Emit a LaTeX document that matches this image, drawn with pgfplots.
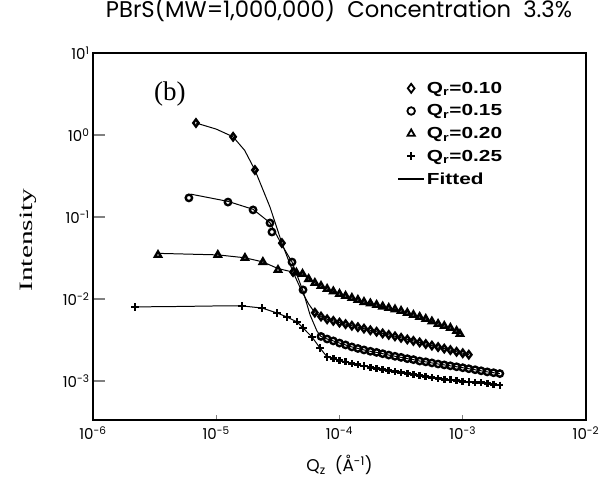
\documentclass[border=0pt]{standalone}
\usepackage{fontspec}
\setmainfont{Liberation Serif}
\newfontfamily\pop{Poppins}
\newfontfamily\legf{Liberation Sans}
\usepackage{graphicx}
\usepackage{pgfplots}
\pgfplotsset{compat=1.18}
\newcommand\tp[1]{{\pop\fontsize{15bp}{18bp}\selectfont 10\textsuperscript{#1}}}
\newcommand\legq[1]{\scalebox{1.3}[1]{\legf\bfseries\fontsize{16bp}{18bp}\selectfont Q\textsubscript{r}=#1}}
\begin{document}
\begin{tikzpicture}
\path[use as bounding box] (-93bp,-71bp) rectangle (510bp,420bp);
\begin{axis}[
  xmode=log, ymode=log,
  scale only axis, width=493bp, height=367bp,
  xmin=1e-6, xmax=1e-2, ymin=3.34e-4, ymax=10,
  axis line style={line width=1.3pt},
  xtick={1e-6,1e-5,1e-4,1e-3,1e-2},
  xticklabels={\tp{-6},\tp{-5},\tp{-4},\tp{-3},\tp{-2}},
  x tick label style={yshift=-3bp},
  ytick={1e-3,1e-2,1e-1,1,10},
  yticklabels={\tp{-3},\tp{-2},\tp{-1},\tp{0},\tp{1}},
  xminorticks=false, yminorticks=false,
  tick align=inside, xtick pos=bottom, ytick pos=left,
  major tick length=12bp,
  xtick style={/pgfplots/major tick length=5bp, line width=0.8pt},
  ytick style={line width=1.2pt},
  xlabel={\pop\fontsize{17bp}{20bp}\selectfont Q\textsubscript{z}\ \ (Å\textsuperscript{-1})},
  xlabel style={at={(axis description cs:0.5,-0.1226)}, anchor=center},
  ylabel={\resizebox{103bp}{12.5bp}{Intensity}},
  ylabel style={at={(axis description cs:-0.132,0.49)}, anchor=center, rotate=0},
  title={\resizebox{466bp}{!}{\pop PBrS(MW=1,000,000)\ \ Concentration\ \ 3.3\%}},
  title style={at={(axis description cs:0.499,1.1035)}, anchor=center},
  legend style={at={(axis description cs:0.617,0.927)}, anchor=north west, draw=none, fill=none,
    inner sep=0pt, row sep=6bp, nodes={inner sep=2bp}},
  legend cell align=left,
  legend image code/.code={\draw[mark repeat=2,mark phase=2,#1] plot coordinates {(0bp,0bp) (13bp,0bp) (26bp,0bp)};},
  every axis plot/.append style={black},
]
% fitted lines
\addplot[forget plot, line width=1pt] coordinates {
(6.85e-6,1.40) (1.0e-5,1.18) (1.37e-5,0.95) (1.7e-5,0.65) (2.06e-5,0.374) (2.73e-5,0.132) (3.41e-5,0.048) (4.2e-5,0.0213) (4.97e-5,0.0122) (5.62e-5,0.0087) (6.31e-5,0.0068) (7.08e-5,0.0061) (7.94e-5,0.00565) (8.91e-5,0.00540) (1.0e-4,0.00515) (1.12e-4,0.00493) (1.26e-4,0.00472) (1.41e-4,0.00453) (1.58e-4,0.00435) (1.78e-4,0.00415) (2.0e-4,0.00398) (2.24e-4,0.00380) (2.51e-4,0.00365) (2.82e-4,0.00350) (3.16e-4,0.00336) (3.55e-4,0.00321) (3.98e-4,0.00308) (4.47e-4,0.00295) (5.01e-4,0.00282) (5.62e-4,0.00270) (6.31e-4,0.00259) (7.08e-4,0.00248) (7.94e-4,0.00238) (8.91e-4,0.00227) (1.0e-3,0.00218) (1.12e-3,0.00209)};
\addplot[forget plot, line width=1pt] coordinates {
(6.2e-6,0.19) (1.245e-5,0.155) (1.99e-5,0.124) (2.73e-5,0.085) (3.41e-5,0.0456) (4.12e-5,0.0282) (5.06e-5,0.0125) (5.77e-5,0.0064) (6.56e-5,0.00407) (7.08e-5,0.00349) (7.94e-5,0.00325) (8.91e-5,0.00308) (1.0e-4,0.00290) (1.12e-4,0.00275) (1.26e-4,0.00260) (1.41e-4,0.00249) (1.58e-4,0.00239) (1.78e-4,0.00230) (2.0e-4,0.00223) (2.24e-4,0.00215) (2.51e-4,0.00207) (2.82e-4,0.00200) (3.16e-4,0.00194) (3.55e-4,0.00187) (3.98e-4,0.00182) (4.47e-4,0.00175) (5.01e-4,0.00171) (5.62e-4,0.00166) (6.31e-4,0.00161) (7.08e-4,0.00157) (7.94e-4,0.00153) (8.91e-4,0.00149) (1.0e-3,0.00145) (1.12e-3,0.00141) (1.26e-3,0.00137) (1.41e-3,0.00133) (1.58e-3,0.00129) (1.78e-3,0.00126) (2.0e-3,0.00123)};
\addplot[forget plot, line width=1pt] coordinates {
(3.37e-6,0.036) (1.03e-5,0.0345) (1.71e-5,0.0318) (2.39e-5,0.0283) (3.17e-5,0.0235) (4.47e-5,0.0208) (5.01e-5,0.0202) (5.62e-5,0.0175) (6.31e-5,0.01567) (7.08e-5,0.0144) (7.94e-5,0.01324) (8.91e-5,0.01236) (1.0e-4,0.01151) (1.12e-4,0.01089) (1.26e-4,0.01028) (1.41e-4,0.00973) (1.58e-4,0.00918) (1.78e-4,0.00881) (2.0e-4,0.00845) (2.24e-4,0.00809) (2.51e-4,0.00776) (2.82e-4,0.00745) (3.16e-4,0.00714) (3.55e-4,0.00676) (3.98e-4,0.00638) (4.47e-4,0.00603) (5.01e-4,0.00570) (5.62e-4,0.00531) (6.31e-4,0.00495) (7.08e-4,0.00468) (7.94e-4,0.00443) (8.91e-4,0.00407) (9.5e-4,0.00374)};
\addplot[forget plot, line width=1pt] coordinates {
(2.19e-6,0.0080) (5e-6,0.0081) (1.0e-5,0.00822) (1.62e-5,0.00822) (2.35e-5,0.00776) (3.11e-5,0.00675) (3.75e-5,0.00603) (4.52e-5,0.00525) (5.06e-5,0.00443) (5.98e-5,0.00344) (6.95e-5,0.00252) (7.94e-5,0.00196) (8.91e-5,0.00187) (1.0e-4,0.00178) (1.12e-4,0.00171) (1.26e-4,0.00164) (1.41e-4,0.00158) (1.58e-4,0.00152) (1.78e-4,0.00146) (2.0e-4,0.00142) (2.24e-4,0.00138) (2.51e-4,0.00134) (2.82e-4,0.00130) (3.16e-4,0.00127) (3.55e-4,0.00123) (3.98e-4,0.00120) (4.47e-4,0.00116) (5.01e-4,0.00113) (5.62e-4,0.00110) (6.31e-4,0.00107) (7.08e-4,0.00105) (7.94e-4,0.00103) (8.91e-4,0.00101) (1.0e-3,0.00099) (1.12e-3,0.00097) (1.26e-3,0.00096) (1.41e-3,0.00095) (1.58e-3,0.00093) (1.78e-3,0.00091) (2.0e-3,0.00089)};
% data markers
\addplot[forget plot, only marks, mark=diamond, mark size=3.6pt, line width=2.4pt] coordinates {
(6.85e-6,1.40) (1.37e-5,0.95) (2.06e-5,0.374) (3.41e-5,0.048) (4.2e-5,0.0213) (6.31e-5,0.0068) (7.08e-5,0.0061) (7.94e-5,0.00565) (8.91e-5,0.00540) (1.0e-4,0.00515) (1.12e-4,0.00493) (1.26e-4,0.00472) (1.41e-4,0.00453) (1.58e-4,0.00435) (1.78e-4,0.00415) (2.0e-4,0.00398) (2.24e-4,0.00380) (2.51e-4,0.00365) (2.82e-4,0.00350) (3.16e-4,0.00336) (3.55e-4,0.00321) (3.98e-4,0.00308) (4.47e-4,0.00295) (5.01e-4,0.00282) (5.62e-4,0.00270) (6.31e-4,0.00259) (7.08e-4,0.00248) (7.94e-4,0.00238) (8.91e-4,0.00227) (1.0e-3,0.00218) (1.12e-3,0.00209)};
\addplot[forget plot, only marks, mark=o, mark size=3.2pt, line width=2.4pt] coordinates {
(6.0e-6,0.171) (1.245e-5,0.152) (1.99e-5,0.122) (2.73e-5,0.0845) (2.83e-5,0.0656) (4.12e-5,0.0282) (5.06e-5,0.0129) (7.08e-5,0.00349) (7.94e-5,0.00325) (8.91e-5,0.00308) (1.0e-4,0.00290) (1.12e-4,0.00275) (1.26e-4,0.00260) (1.41e-4,0.00249) (1.58e-4,0.00239) (1.78e-4,0.00230) (2.0e-4,0.00223) (2.24e-4,0.00215) (2.51e-4,0.00207) (2.82e-4,0.00200) (3.16e-4,0.00194) (3.55e-4,0.00187) (3.98e-4,0.00182) (4.47e-4,0.00175) (5.01e-4,0.00171) (5.62e-4,0.00166) (6.31e-4,0.00161) (7.08e-4,0.00157) (7.94e-4,0.00153) (8.91e-4,0.00149) (1.0e-3,0.00145) (1.12e-3,0.00141) (1.26e-3,0.00137) (1.41e-3,0.00133) (1.58e-3,0.00129) (1.78e-3,0.00126) (2.0e-3,0.00123)};
\addplot[forget plot, only marks, mark=triangle, mark size=3.6pt, line width=2.4pt] coordinates {
(3.37e-6,0.0344) (1.03e-5,0.0344) (1.71e-5,0.0316) (2.39e-5,0.0282) (3.17e-5,0.0226) (4.47e-5,0.0209) (5.01e-5,0.0202) (5.62e-5,0.0175) (6.31e-5,0.01567) (7.08e-5,0.0144) (7.94e-5,0.01324) (8.91e-5,0.01236) (1.0e-4,0.01151) (1.12e-4,0.01089) (1.26e-4,0.01028) (1.41e-4,0.00973) (1.58e-4,0.00918) (1.78e-4,0.00881) (2.0e-4,0.00845) (2.24e-4,0.00809) (2.51e-4,0.00776) (2.82e-4,0.00745) (3.16e-4,0.00714) (3.55e-4,0.00676) (3.98e-4,0.00638) (4.47e-4,0.00603) (5.01e-4,0.00570) (5.62e-4,0.00531) (6.31e-4,0.00495) (7.08e-4,0.00468) (7.94e-4,0.00443) (8.91e-4,0.00407) (9.5e-4,0.00374)};
\addplot[forget plot, only marks, mark=+, mark size=3.6pt, line width=2.6pt] coordinates {
(2.19e-6,0.0080) (1.62e-5,0.00822) (2.35e-5,0.00776) (3.11e-5,0.00675) (3.75e-5,0.00603) (4.52e-5,0.00525) (5.06e-5,0.00443) (5.98e-5,0.00344) (6.95e-5,0.00252) (7.94e-5,0.00196) (8.91e-5,0.00187) (1.0e-4,0.00178) (1.12e-4,0.00171) (1.26e-4,0.00164) (1.41e-4,0.00158) (1.58e-4,0.00152) (1.78e-4,0.00146) (2.0e-4,0.00142) (2.24e-4,0.00138) (2.51e-4,0.00134) (2.82e-4,0.00130) (3.16e-4,0.00127) (3.55e-4,0.00123) (3.98e-4,0.00120) (4.47e-4,0.00116) (5.01e-4,0.00113) (5.62e-4,0.00110) (6.31e-4,0.00107) (7.08e-4,0.00105) (7.94e-4,0.00103) (8.91e-4,0.00101) (1.0e-3,0.00099) (1.12e-3,0.00097) (1.26e-3,0.00096) (1.41e-3,0.00095) (1.58e-3,0.00093) (1.78e-3,0.00091) (2.0e-3,0.00089)};
% legend
\addlegendimage{only marks, mark=diamond, mark size=4.5pt, line width=1.8pt}
\addlegendentry{\legq{0.10}}
\addlegendimage{only marks, mark=o, mark size=3.8pt, line width=1.8pt}
\addlegendentry{\legq{0.15}}
\addlegendimage{only marks, mark=triangle, mark size=4.2pt, line width=1.8pt}
\addlegendentry{\legq{0.20}}
\addlegendimage{only marks, mark=+, mark size=4pt, line width=2pt}
\addlegendentry{\legq{0.25}}
\addlegendimage{line width=1.6pt}
\addlegendentry{\scalebox{1.3}[1]{\legf\bfseries\fontsize{16bp}{18bp}\selectfont Fitted}}
\node[font=\fontsize{27bp}{30bp}\selectfont] at (axis cs:4.2e-6,3.16) {(b)};
\end{axis}
\end{tikzpicture}
\end{document}
